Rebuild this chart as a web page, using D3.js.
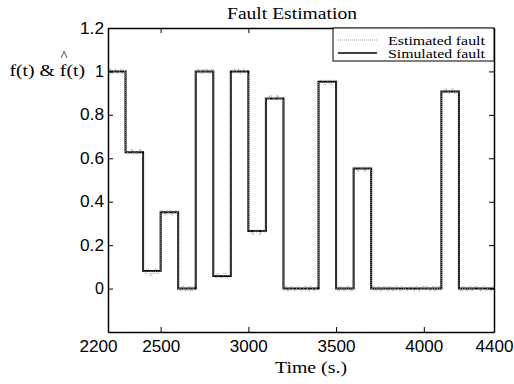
<!DOCTYPE html>
<html><head><meta charset="utf-8">
<script src="https://cdn.jsdelivr.net/npm/d3@7"></script>
<style>body{margin:0;background:#fff}svg{display:block}</style>
</head><body><svg id="c" width="514" height="384"></svg>
<script>
// ---- data ----
const xTicks = [2200, 2500, 3000, 3500, 4000, 4400];
const yTicks = [0, 0.2, 0.4, 0.6, 0.8, 1, 1.2];
const yTickLabels = ["0", "0.2", "0.4", "0.6", "0.8", "1", "1.2"];
// simulated fault: step change times and levels (level holds until next time)
const simTimes  = [2200, 2300, 2400, 2500, 2600, 2700, 2800, 2900, 3000, 3100, 3200, 3400, 3500, 3600, 3700, 4100, 4200, 4400];
const simLevels = [1, 0.628, 0.081, 0.352, 0, 1, 0.058, 1, 0.265, 0.875, 0, 0.953, 0, 0.553, 0, 0.907, 0, 0];
// estimated fault: samples every 10 s from 2200 s
const estStart = 2200, estStep = 10;
const estValues = [
 1.00,1.01,0.99,1.00,1.01,0.99,1.00,1.01,0.99,1.00,
 0.63,0.62,0.63,0.64,0.62,0.63,0.62,0.63,0.64,0.62,
 0.08,0.07,0.09,0.08,0.06,0.08,0.07,0.09,0.07,0.08,
 0.36,0.35,0.34,0.36,0.35,0.36,0.34,0.35,0.36,0.35,
 0.00,-0.01,0.01,0.00,-0.01,0.00,0.01,-0.01,0.00,0.01,
 1.00,1.01,1.00,0.99,1.01,1.00,1.01,0.99,1.00,1.01,
 0.06,0.05,0.07,0.06,0.05,0.06,0.07,0.05,0.06,0.06,
 0.99,1.00,1.01,1.00,1.01,0.99,1.00,1.01,1.00,0.99,
 0.27,0.26,0.25,0.27,0.26,0.27,0.25,0.26,0.27,0.26,
 0.88,0.87,0.89,0.88,0.87,0.88,0.89,0.87,0.88,0.87,
 0.00,0.01,-0.01,0.00,0.01,0.00,-0.01,0.00,0.01,0.00,
 -0.01,0.00,0.01,0.00,-0.01,0.01,0.00,-0.01,0.00,0.01,
 0.95,0.96,0.95,0.94,0.96,0.95,0.96,0.94,0.95,0.96,
 0.00,-0.01,0.01,0.00,-0.01,0.00,0.01,0.00,-0.01,0.00,
 0.56,0.55,0.54,0.56,0.55,0.56,0.54,0.55,0.56,0.55,
 0.00,0.01,-0.01,0.00,0.01,-0.01,0.00,0.01,0.00,-0.01,
 0.01,0.00,-0.01,0.00,0.01,0.00,-0.01,0.01,0.00,0.00,
 -0.01,0.00,0.01,0.00,-0.01,0.01,0.00,-0.01,0.00,0.01,
 0.00,0.01,0.00,-0.01,0.00,0.01,-0.01,0.00,0.01,0.00,
 0.91,0.90,0.92,0.91,0.90,0.91,0.92,0.90,0.91,0.91,
 0.00,-0.01,0.01,0.00,-0.01,0.00,0.01,-0.01,0.00,0.01,
 0.01,0.00,-0.01,0.00,0.01,-0.01,0.00,0.00,-0.01,0.01,
 0.00];
const titleText = "Fault Estimation";
const xLabel = "Time (s.)";
const legendLabels = ["Estimated fault", "Simulated fault"];

// ---- layout ----
const W = 514, H = 384;
const m = {left: 108, right: 20, top: 28, bottom: 52};
const svg = d3.select("#c");
const x = d3.scaleLinear().domain([2200, 4400]).range([m.left, W - m.right]);
const y = d3.scaleLinear().domain([-0.2, 1.2]).range([H - m.bottom, m.top]);
const serif = "'Liberation Serif','Times New Roman',serif";
const sans = "'Liberation Sans',Arial,sans-serif";
const fit = (sel, w) => sel.attr("textLength", w).attr("lengthAdjust", "spacingAndGlyphs");

// data lines
const estData = estValues.map((v, i) => [estStart + i * estStep, v]);
const simData = simTimes.map((t, i) => [t, simLevels[i]]);
const line = d3.line().x(d => x(d[0])).y(d => y(d[1])).curve(d3.curveStepAfter);

svg.append("path").datum(simData).attr("d", line)
  .attr("fill", "none").attr("stroke", "#000").attr("stroke-width", 2);
svg.append("path").datum(estData).attr("d", line)
  .attr("fill", "none").attr("stroke", "#999").attr("stroke-width", 1)
  .attr("stroke-dasharray", "1,1");

// axes (inward ticks, box)
const tl = 5;
const gB = svg.append("g").attr("transform", `translate(0,${H - m.bottom})`)
  .call(d3.axisBottom(x).tickValues(xTicks).tickSizeInner(-tl).tickSizeOuter(0).tickPadding(9).tickFormat(d3.format("d")));
const gT = svg.append("g").attr("transform", `translate(0,${m.top})`)
  .call(d3.axisTop(x).tickValues(xTicks).tickSizeInner(-tl).tickSizeOuter(0).tickFormat(""));
const gL = svg.append("g").attr("transform", `translate(${m.left},0)`)
  .call(d3.axisLeft(y).tickValues(yTicks).tickSizeInner(-tl).tickSizeOuter(0).tickPadding(4).tickFormat((d, i) => yTickLabels[i]));
const gR = svg.append("g").attr("transform", `translate(${W - m.right},0)`)
  .call(d3.axisRight(y).tickValues(yTicks).tickSizeInner(-tl).tickSizeOuter(0).tickFormat(""));
[gB, gT, gL, gR].forEach(g => {
  g.select(".domain").attr("stroke", "#000").attr("stroke-width", 1.5);
  g.selectAll(".tick line").attr("stroke", "#000").attr("stroke-width", 1);
  g.selectAll("text").attr("font-family", sans).attr("font-size", 16).attr("fill", "#000");
});
gB.selectAll(".tick text").each(function () { fit(d3.select(this), 38); });
gL.selectAll(".tick text").each(function (d) { const t = d3.select(this); if (t.text().length === 3) fit(t, 24); });
gB.selectAll(".tick text").filter(d => d === 2200).attr("dx", -10);

// legend
const lg = svg.append("g");
lg.append("rect").attr("x", 333).attr("y", m.top).attr("width", W - m.right - 333).attr("height", 33)
  .attr("fill", "#fff").attr("stroke", "#000").attr("stroke-width", 1);
const lgY = [40, 53];
lg.append("line").attr("x1", 338).attr("x2", 377).attr("y1", lgY[0]).attr("y2", lgY[0])
  .attr("stroke", "#999").attr("stroke-width", 1).attr("stroke-dasharray", "1,1");
lg.append("line").attr("x1", 338).attr("x2", 377).attr("y1", lgY[1]).attr("y2", lgY[1])
  .attr("stroke", "#000").attr("stroke-width", 1.5);
legendLabels.forEach((t, i) => {
  fit(lg.append("text").attr("x", 388).attr("y", lgY[i] + 4.5).text(t)
    .attr("font-family", serif).attr("font-size", 12.5).attr("fill", "#000"), 97);
});

// title and labels
fit(svg.append("text").attr("x", 227).attr("y", 18.5)
  .attr("font-family", serif).attr("font-size", 16.5).text(titleText), 130);
fit(svg.append("text").attr("x", 275).attr("y", 372.5)
  .attr("font-family", serif).attr("font-size", 16.5).text(xLabel), 72);
const yl = svg.append("text").attr("x", 9.5).attr("y", 76)
  .attr("font-family", serif).attr("font-size", 16.5);
yl.append("tspan").text("f(t) & ");
yl.append("tspan").text("f");
yl.append("tspan").text("(t)");
fit(yl, 75.5);
svg.append("text").attr("x", 64).attr("y", 61).attr("text-anchor", "middle")
  .attr("font-family", serif).attr("font-size", 15).text("^");
</script></body></html>
